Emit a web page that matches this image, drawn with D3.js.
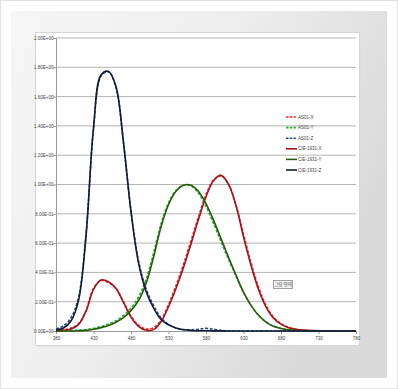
<!DOCTYPE html>
<html>
<head>
<meta charset="utf-8">
<script src="https://cdn.jsdelivr.net/npm/d3@7"></script>
<style>
  body { margin: 0; background: #fff; }
  svg { display: block; font-family: "Liberation Sans", Arial, sans-serif; }
</style>
</head>
<body>
<div id="chart-area"></div>
<script>

// wavelengths (nm), 10 nm steps
var wavelengths = d3.range(380, 781, 10);

// CIE 1931 colour matching functions
var cieX = [0.0014,0.0042,0.0143,0.0435,0.1344,0.2839,0.3483,0.3362,0.2908,0.1954,0.0956,0.0320,0.0049,0.0093,0.0633,0.1655,0.2904,0.4334,0.5945,0.7621,0.9163,1.0263,1.0622,1.0026,0.8544,0.6424,0.4479,0.2835,0.1649,0.0874,0.0468,0.0227,0.0114,0.0058,0.0029,0.0014,0.0007,0.0003,0.0002,0.0001,0.0000];
var cieY = [0.0000,0.0001,0.0004,0.0012,0.0040,0.0116,0.0230,0.0380,0.0600,0.0910,0.1390,0.2080,0.3230,0.5030,0.7100,0.8620,0.9540,0.9950,0.9950,0.9520,0.8700,0.7570,0.6310,0.5030,0.3810,0.2650,0.1750,0.1070,0.0610,0.0320,0.0170,0.0082,0.0041,0.0021,0.0010,0.0005,0.0002,0.0001,0.0001,0.0000,0.0000];
var cieZ = [0.0065,0.0201,0.0679,0.2074,0.6456,1.3856,1.7471,1.7721,1.6692,1.2876,0.8130,0.4652,0.2720,0.1582,0.0783,0.0422,0.0203,0.0088,0.0039,0.0021,0.0017,0.0011,0.0008,0.0003,0.0002,0.0000,0,0,0,0,0,0,0,0,0,0,0,0,0,0,0];

// AS01 sensor (dashed series)
var asX = [0.003,0.008,0.020,0.050,0.140,0.290,0.345,0.330,0.290,0.200,0.100,0.040,0.014,0.022,0.076,0.180,0.310,0.455,0.615,0.780,0.930,1.030,1.060,1.000,0.860,0.660,0.465,0.300,0.175,0.095,0.050,0.025,0.012,0.006,0.003,0.001,0.001,0,0,0,0];
var asY = [0.002,0.003,0.004,0.006,0.010,0.018,0.030,0.047,0.070,0.105,0.158,0.232,0.350,0.530,0.730,0.875,0.960,0.995,0.990,0.940,0.850,0.735,0.610,0.490,0.375,0.262,0.175,0.108,0.062,0.033,0.017,0.008,0.004,0.002,0.001,0,0,0,0,0,0];
var asZ = [0.015,0.035,0.090,0.230,0.660,1.380,1.740,1.770,1.660,1.280,0.820,0.480,0.290,0.175,0.090,0.045,0.020,0.010,0.008,0.012,0.018,0.012,0.004,0,0,0,0,0,0,0,0,0,0,0,0,0,0,0,0,0,0];

var seriesNames = ["AS01-X", "AS01-Y", "AS01-Z", "CIE-1931-X", "CIE-1931-Y", "CIE-1931-Z"];
var seriesValues = [asX, asY, asZ, cieX, cieY, cieZ];
var seriesColors = ["#f02828", "#22b430", "#2a4a80", "#a0161c", "#2a5a0c", "#101c3c"];
var seriesDashed = [true, true, true, false, false, false];

var xTicks = [380, 430, 480, 530, 580, 630, 680, 730, 780];
var yTicks = [0, 0.2, 0.4, 0.6, 0.8, 1.0, 1.2, 1.4, 1.6, 1.8, 2.0];

var width = 398, height = 389;

var svg = d3.select("#chart-area").append("svg")
  .attr("width", width)
  .attr("height", height);

// background frame
var defs = svg.append("defs");
var grad = defs.append("linearGradient").attr("id", "panelGrad")
  .attr("x1", "0").attr("y1", "0").attr("x2", "1").attr("y2", "0.45");
grad.append("stop").attr("offset", "0%").attr("stop-color", "#f6f6f6");
grad.append("stop").attr("offset", "50%").attr("stop-color", "#eeeeee");
grad.append("stop").attr("offset", "100%").attr("stop-color", "#dadada");

svg.append("rect").attr("x", 0.5).attr("y", 0.5).attr("width", width - 1).attr("height", height - 1)
  .attr("fill", "#fff").attr("stroke", "#e2e2e2");
svg.append("rect").attr("x", 11).attr("y", 11).attr("width", 376).attr("height", 367)
  .attr("fill", "url(#panelGrad)");

// chart area (with light shadow)
svg.append("rect").attr("x", 36.5).attr("y", 33.5).attr("width", 324).attr("height", 313)
  .attr("fill", "#dcdcdc");
svg.append("rect").attr("x", 35.5).attr("y", 32.5).attr("width", 324).attr("height", 313)
  .attr("fill", "#fff").attr("stroke", "#d6d6d6");

// plot area
var margin = {left: 56, top: 38, right: 356, bottom: 331};

var xScale = d3.scaleLinear().domain([380, 780]).range([margin.left, margin.right]);
var yScale = d3.scaleLinear().domain([0, 2]).range([margin.bottom, margin.top]);

// gridlines
svg.append("g")
  .selectAll("line").data(yTicks.slice(1)).enter()
  .append("line")
  .attr("x1", margin.left).attr("x2", margin.right)
  .attr("y1", function (d) { return yScale(d); })
  .attr("y2", function (d) { return yScale(d); })
  .attr("stroke", "#b4b4b4").attr("stroke-width", 1);

// axes
var yAxis = d3.axisLeft(yScale).tickValues(yTicks).tickSize(3)
  .tickFormat(function (d) { return d.toExponential(2).replace("e+", "E+0").replace("e-", "E-0").toUpperCase(); });
var xAxis = d3.axisBottom(xScale).tickValues(xTicks).tickSize(3);

var gy = svg.append("g").attr("transform", "translate(" + margin.left + ",0)").call(yAxis);
var gx = svg.append("g").attr("transform", "translate(0," + margin.bottom + ")").call(xAxis);

[gx, gy].forEach(function (g) {
  g.select(".domain").attr("stroke", "#9a9a9a");
  g.selectAll(".tick line").attr("stroke", "#9a9a9a");
  g.selectAll("text").attr("fill", "#444").style("font-size", "4.5px");
});
gy.selectAll("text").attr("x", -2.5);
gx.selectAll("text").attr("y", 6);

// lines
var line = d3.line()
  .x(function (d, i) { return xScale(wavelengths[i]); })
  .y(function (d) { return yScale(d); })
  .curve(d3.curveCatmullRom.alpha(0.5));

seriesValues.forEach(function (vals, i) {
  svg.append("path")
    .datum(vals)
    .attr("d", line)
    .attr("fill", "none")
    .attr("stroke", seriesColors[i])
    .attr("stroke-width", 1.6)
    .attr("stroke-dasharray", seriesDashed[i] ? "3,1.6" : null);
});

// legend
var legend = svg.append("g");
seriesNames.forEach(function (name, i) {
  var y = 117 + i * 10.6;
  legend.append("line")
    .attr("x1", 286).attr("x2", 297).attr("y1", y).attr("y2", y)
    .attr("stroke", seriesColors[i]).attr("stroke-width", 1.6)
    .attr("stroke-dasharray", seriesDashed[i] ? "2.5,1.2" : null);
  legend.append("text")
    .attr("x", 298).attr("y", y + 1.6)
    .attr("fill", "#444").style("font-size", "4.5px")
    .text(name);
});

// plot area tooltip
svg.append("rect").attr("x", 273.5).attr("y", 280.5).attr("width", 19).attr("height", 8)
  .attr("fill", "#f4f4f4").attr("stroke", "#8a8a8a").attr("stroke-width", 0.8);
svg.append("text").attr("x", 283).attr("y", 286.3).attr("text-anchor", "middle")
  .attr("fill", "#333").style("font-size", "4.5px")
  .style("font-family", "'Noto Sans CJK KR', sans-serif")
  .text("그림 영역");

</script>
</body>
</html>
